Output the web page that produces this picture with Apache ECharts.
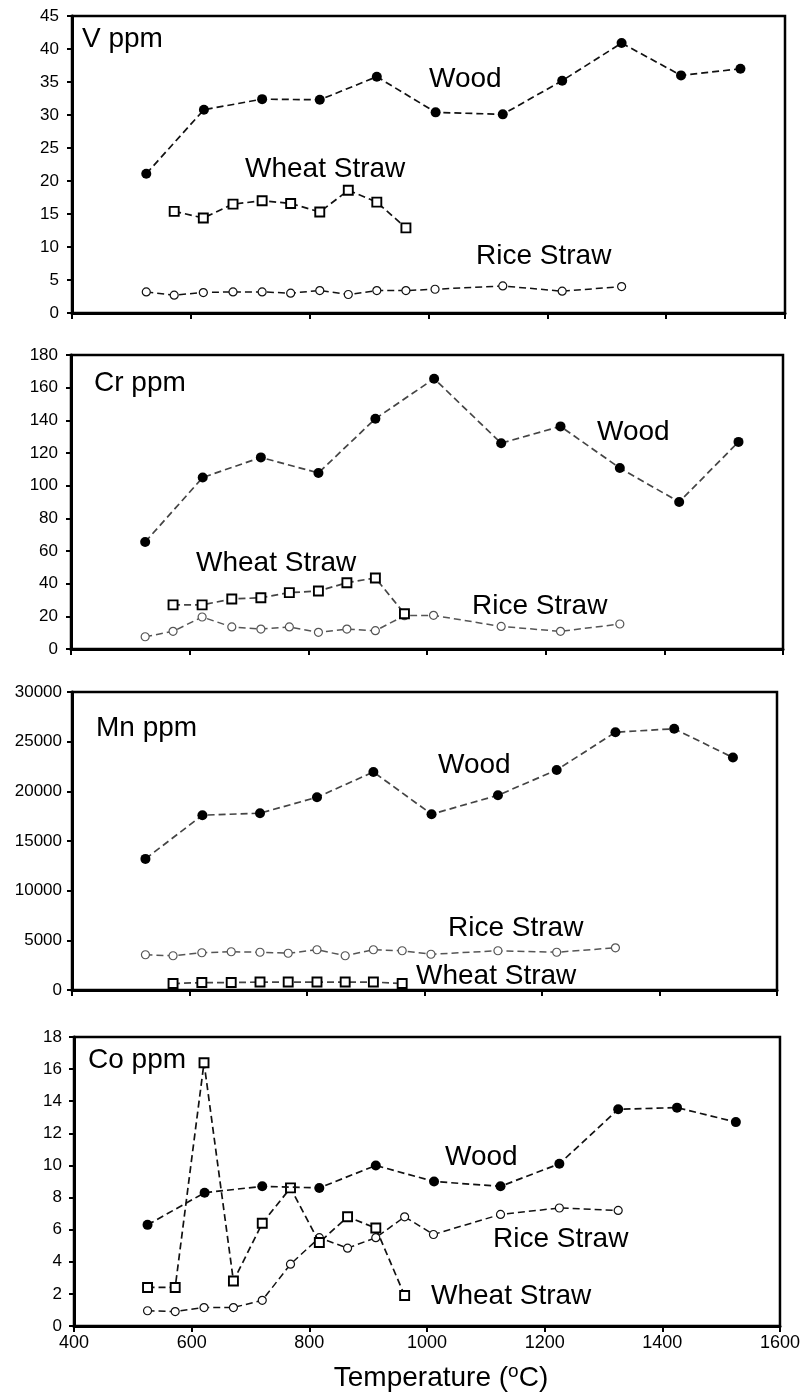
<!DOCTYPE html>
<html>
<head>
<meta charset="utf-8">
<script src="https://cdn.jsdelivr.net/npm/echarts@6/dist/echarts.min.js"></script>
<style>
  html, body { margin: 0; padding: 0; background: #fff; }
  #chart { width: 803px; height: 1393px; }
</style>
</head>
<body>
<div id="chart"></div>
<script>
// Furnace temperatures (oC) for each fuel
const woodTemp    = [525, 622, 720, 817, 913, 1012, 1125, 1225, 1325, 1425, 1525];
const wheatTemp   = [572, 621, 671, 720, 768, 817, 865, 913, 962];
const wheatCoTemp = [525, 572, 621, 671, 720, 768, 817, 865, 913, 962];
const riceTemp    = [525, 572, 621, 671, 720, 768, 817, 865, 913, 962, 1011, 1125, 1225, 1325];

// V ppm
const vWood  = [21.1, 30.8, 32.4, 32.3, 35.8, 30.4, 30.1, 35.2, 40.9, 36.0, 37.0];
const vWheat = [15.4, 14.4, 16.5, 17.0, 16.6, 15.3, 18.6, 16.8, 12.9];
const vRice  = [3.2, 2.7, 3.1, 3.2, 3.2, 3.0, 3.4, 2.8, 3.4, 3.4, 3.6, 4.1, 3.3, 4.0];

// Cr ppm
const crWood  = [65.5, 105, 117.3, 107.8, 141, 165.5, 126, 136.3, 110.8, 90, 126.8];
const crWheat = [27, 27, 30.6, 31.4, 34.5, 35.5, 40.6, 43.5, 21.6];
const crRice  = [7.5, 10.8, 19.6, 13.5, 12.2, 13.5, 10.2, 12.2, 11.2, 20.4, 20.6, 13.8, 10.8, 15.3];

// Mn ppm
const mnWood  = [13200, 17600, 17800, 19400, 21950, 17700, 19600, 22150, 25950, 26300, 23400];
const mnWheat = [650, 750, 750, 800, 800, 800, 800, 800, 650];
const mnRice  = [3550, 3450, 3750, 3850, 3800, 3700, 4050, 3450, 4050, 3950, 3600, 3950, 3800, 4250];

// Co ppm
const coWood  = [6.3, 8.3, 8.7, 8.6, 10.0, 9.0, 8.7, 10.1, 13.5, 13.6, 12.7];
const coWheat = [2.4, 2.4, 16.4, 2.8, 6.4, 8.6, 5.2, 6.8, 6.1, 1.9];
const coRice  = [0.95, 0.9, 1.15, 1.15, 1.6, 3.85, 5.5, 4.85, 5.5, 6.8, 5.7, 6.95, 7.35, 7.2];

// Axis scales
const xMin = 400, xMax = 1600, xStep = 200;
const yMaxes  = [45, 180, 30000, 18];
const ySteps  = [5, 20, 5000, 2];
const panelTitles = ['V ppm', 'Cr ppm', 'Mn ppm', 'Co ppm'];
const seriesNames = ['Wood', 'Wheat Straw', 'Rice Straw'];
const xTitle = 'Temperature (oC)';

const FONT = '"Liberation Sans", Arial, Helvetica, sans-serif';

// Layout of the four stacked panels
const layout = [
  { left: 72, top: 16,   width: 713, height: 297, labelMargin: 13, line: '#111', rice: '#111' },
  { left: 71, top: 355,  width: 712, height: 294, labelMargin: 13, line: '#444', rice: '#555' },
  { left: 72, top: 692,  width: 705, height: 298, labelMargin: 10, line: '#444', rice: '#555' },
  { left: 74, top: 1037, width: 709, height: 289, labelMargin: 12, line: '#111', rice: '#111' }
];

const panelData = [
  { wood: [woodTemp, vWood],  wheat: [wheatTemp, vWheat],    rice: [riceTemp, vRice] },
  { wood: [woodTemp, crWood], wheat: [wheatTemp, crWheat],   rice: [riceTemp, crRice] },
  { wood: [woodTemp, mnWood], wheat: [wheatTemp, mnWheat],   rice: [riceTemp, mnRice] },
  { wood: [woodTemp, coWood], wheat: [wheatCoTemp, coWheat], rice: [riceTemp, coRice] }
];

const pairs = (xs, ys) => xs.map((x, i) => [x, ys[i]]);
const plain = v => String(v);

const grid = [], xAxis = [], yAxis = [], series = [];

layout.forEach((p, i) => {
  const last = i === layout.length - 1;
  grid.push({
    left: p.left, top: p.top, width: p.width, height: p.height,
    show: true, borderColor: '#000', borderWidth: 2.5, backgroundColor: 'transparent'
  });
  xAxis.push({
    gridIndex: i, type: 'value', min: xMin, max: xMax, interval: xStep,
    axisLine: { show: true, onZero: false, lineStyle: { color: '#000', width: 3 } },
    axisTick: { show: true, inside: false, length: 6, lineStyle: { color: '#000', width: 2 } },
    axisLabel: { show: last, color: '#000', fontSize: 18, fontFamily: FONT, margin: 8,
                 formatter: plain },
    splitLine: { show: false }
  });
  yAxis.push({
    gridIndex: i, type: 'value', min: 0, max: yMaxes[i], interval: ySteps[i],
    axisLine: { show: true, onZero: false, lineStyle: { color: '#000', width: 3 } },
    axisTick: { show: true, inside: false, length: 5, lineStyle: { color: '#000', width: 2 } },
    axisLabel: { color: '#000', fontSize: 17, fontFamily: FONT, margin: p.labelMargin,
                 formatter: plain },
    splitLine: { show: false }
  });

  const d = panelData[i];
  // Rice straw: small open circles
  series.push({
    name: seriesNames[2], type: 'line', xAxisIndex: i, yAxisIndex: i,
    data: pairs(d.rice[0], d.rice[1]),
    symbol: 'circle', symbolSize: 8, showAllSymbol: true,
    lineStyle: { color: p.rice, width: 1.5, type: [7, 4] },
    itemStyle: { color: '#fff', borderColor: p.rice, borderWidth: 1.2 },
    z: 3, animation: false
  });
  // Wheat straw: open squares
  series.push({
    name: seriesNames[1], type: 'line', xAxisIndex: i, yAxisIndex: i,
    data: pairs(d.wheat[0], d.wheat[1]),
    symbol: 'rect', symbolSize: 9, showAllSymbol: true,
    lineStyle: { color: p.line, width: 1.7, type: [7, 4] },
    itemStyle: { color: '#fff', borderColor: '#000', borderWidth: 1.9 },
    z: 4, animation: false
  });
  // Wood: filled black circles
  series.push({
    name: seriesNames[0], type: 'line', xAxisIndex: i, yAxisIndex: i,
    data: pairs(d.wood[0], d.wood[1]),
    symbol: 'circle', symbolSize: 10, showAllSymbol: true,
    lineStyle: { color: p.line, width: 1.7, type: [7, 4] },
    itemStyle: { color: '#000', borderColor: '#000', borderWidth: 0 },
    z: 5, animation: false
  });
});

// In-plot annotations: element name per panel and fuel names beside their curves
const textItem = (x, y, text) => ({
  type: 'text', x: x, y: y, z: 50,
  style: { text: text, fill: '#000', fontSize: 28, fontFamily: FONT,
           textAlign: 'left', textVerticalAlign: 'middle' }
});

const annotations = [
  // panel titles
  textItem(82, 39, panelTitles[0]),
  textItem(94, 383, panelTitles[1]),
  textItem(96, 728, panelTitles[2]),
  textItem(88, 1060, panelTitles[3]),
  // V
  textItem(429, 79, seriesNames[0]),
  textItem(245, 169, seriesNames[1]),
  textItem(476, 256, seriesNames[2]),
  // Cr
  textItem(597, 432, seriesNames[0]),
  textItem(196, 563, seriesNames[1]),
  textItem(472, 606, seriesNames[2]),
  // Mn
  textItem(438, 765, seriesNames[0]),
  textItem(448, 928, seriesNames[2]),
  textItem(416, 976, seriesNames[1]),
  // Co
  textItem(445, 1157, seriesNames[0]),
  textItem(493, 1239, seriesNames[2]),
  textItem(431, 1296, seriesNames[1])
];

// X axis title with a raised small "o"
const titleParts = xTitle.match(/^(.*\()o(C\))$/);
annotations.push({
  type: 'text', x: 441, y: 1376, z: 50,
  style: {
    text: '{a|' + titleParts[1] + '}{s|o}{a|' + titleParts[2] + '}',
    textAlign: 'center', textVerticalAlign: 'middle',
    rich: {
      a: { fontSize: 28, fontFamily: FONT, fill: '#000', lineHeight: 32, verticalAlign: 'bottom' },
      s: { fontSize: 19, fontFamily: FONT, fill: '#000', lineHeight: 32, verticalAlign: 'top', padding: [2, 0, 0, 0] }
    }
  }
});

const chart = echarts.init(document.getElementById('chart'), null, { renderer: 'canvas' });
chart.setOption({
  animation: false,
  backgroundColor: '#fff',
  grid, xAxis, yAxis, series,
  graphic: annotations
});
</script>
</body>
</html>
